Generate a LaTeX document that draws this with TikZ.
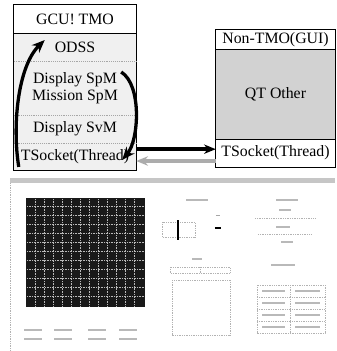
\documentclass[tikz,border=0pt]{standalone}
\usepackage{fontspec}
\setmainfont{Liberation Serif}
\usetikzlibrary{arrows.meta,positioning,calc}

\begin{document}
\begin{tikzpicture}[x=0.03cm, y=-0.03cm,
  row/.style={rectangle, inner sep=0pt, align=center,
              font=\fontsize{13.5}{14.5}\selectfont},
  lrow/.style={row, minimum width=3.66cm},
  rrow/.style={row, minimum width=3.57cm},
  body/.style={fill=gray!12},
  frame/.style={line width=1.1pt},
  sep/.style={densely dotted, gray!70, line width=0.6pt},
  link/.style={-{Stealth[length=10pt,width=8pt]}, line width=3.2pt},
  curl/.style={-{Stealth[length=11pt,width=9pt]}, line width=2.8pt},
  bar/.style={fill=gray!55, draw=none},
  dots/.style={densely dotted, gray!60, line width=0.5pt}
]
\useasboundingbox (0,0) rectangle (337,351);

% Left box: GCU side
\node[lrow, minimum height=0.84cm] (lhead) at (75,19) {GCU! TMO};
\node[lrow, body, minimum height=0.84cm] (odss) at (75,47) {ODSS};
\node[lrow, body, minimum height=1.62cm] (spm) at (75,88) {Display SpM\\Mission SpM};
\node[lrow, body, minimum height=0.84cm] (svm) at (75,129) {Display SvM};
\node[lrow, body, minimum height=0.81cm] (ltsock) at (75,156.5) {TSocket(Thread)};

\draw[frame] (lhead.north west) rectangle (ltsock.south east);
\draw[frame] (lhead.south west) -- (lhead.south east);
\draw[sep] (odss.south west) -- (odss.south east);
\draw[sep] (spm.south west) -- (spm.south east);
\draw[sep] (svm.south west) -- (svm.south east);

% Right box: GUI side
\node[rrow, minimum height=0.57cm] (rhead) at (275.5,39.5) {Non-TMO(GUI)};
\node[rrow, fill=gray!35, minimum height=2.7cm] (qt) at (275.5,94) {QT Other};
\node[rrow, minimum height=0.84cm] (rtsock) at (275.5,153) {TSocket(Thread)};

\draw[frame] (rhead.north west) rectangle (rtsock.south east);
\draw[frame] (rhead.south west) -- (rhead.south east);
\draw[frame] (qt.south west) -- (qt.south east);

% Socket links
\draw[link] ([yshift=0.22cm]ltsock.east) -- ([yshift=0.22cm]ltsock.east -| rtsock.west);
\draw[link, gray!65] ([yshift=-0.24cm]rtsock.west) -- ([yshift=-0.24cm]rtsock.west -| ltsock.east);

% Internal flow
\draw[curl] ([shift={(0.15cm,0.1cm)}]ltsock.south west)
  .. controls (12,125) and (18,66) .. ([shift={(0.93cm,0.21cm)}]odss.west);
\draw[curl] ([shift={(-0.45cm,0.48cm)}]spm.east)
  .. controls (142,85) and (139,140) .. ([shift={(-0.42cm,-0.1cm)}]ltsock.east);

% Screenshot of the GUI
\fill[gray!45] (10,178) rectangle (335,183);
\draw[dots] (10,183) -- (10,351);
\fill[black!90] (26,198) rectangle (145,307);
\foreach \i in {35,44,...,140}
  \draw[gray!55, densely dotted] (\i,199) -- (\i,306);
\foreach \j in {206,215,...,302}
  \draw[gray!55, densely dotted] (27,\j) -- (144,\j);
\foreach \i in {33,63,97,128} {
  \fill[bar] (\i-9,329) rectangle (\i+9,331);
  \fill[bar] (\i-9,338) rectangle (\i+9,340);
}

% middle panel
\fill[bar] (186,199) rectangle (208,201);
\draw[dots] (162,222) rectangle (195,237);
\draw[line width=1.2pt] (178,220) -- (178,240);
\draw[gray!70] (216,215) -- (220,215);
\draw[line width=1pt] (215,228) -- (221,228);
\fill[bar] (192,258) rectangle (202,260);
\draw[dots] (170,267) rectangle (230,273);
\draw[dots] (200,267) -- (200,273);
\draw[dots] (172,280) rectangle (230,335);

% right panel
\fill[bar] (276,199) rectangle (298,201);
\fill[bar] (279,209) rectangle (291,211);
\fill[bar] (276,226) rectangle (290,228);
\fill[bar] (281,241) rectangle (293,243);
\draw[dots] (255,218) -- (315,218);
\draw[dots] (258,234) -- (312,234);
\fill[bar] (271,264) rectangle (295,266);
\draw[dots] (257,285) rectangle (325,333);
\draw[dots] (290,285) -- (290,333);
\foreach \j in {297,309,321}
  \draw[dots] (257,\j) -- (325,\j);
\foreach \j in {291,303,315,327} {
  \fill[bar] (262,\j-1) rectangle (285,\j+1);
  \fill[bar] (295,\j-1) rectangle (320,\j+1);
}

\end{tikzpicture}
\end{document}
